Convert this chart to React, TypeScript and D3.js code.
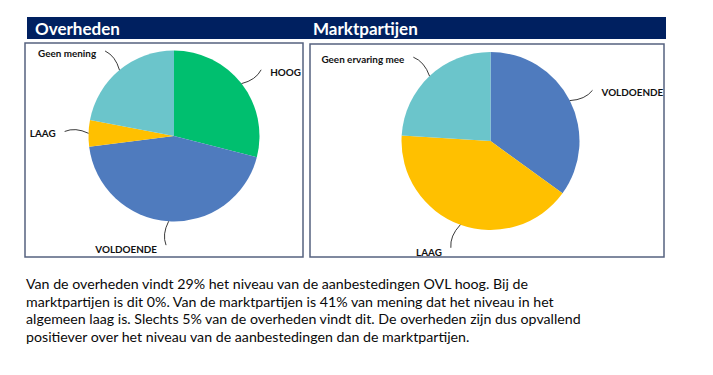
import { useEffect, useRef } from "react";
import * as d3 from "d3";

// data
const overhedenCategories = ["HOOG", "VOLDOENDE", "LAAG", "Geen mening"];
const overhedenValues = [29, 44, 5, 22];
const marktCategories = ["VOLDOENDE", "LAAG", "Geen ervaring mee"];
const marktValues = [35, 41, 24];
const panelTitles = ["Overheden", "Marktpartijen"];
const paragraphLines = [
  "Van de overheden vindt 29% het niveau van de aanbestedingen OVL hoog. Bij de",
  "marktpartijen is dit 0%. Van de marktpartijen is 41% van mening dat het niveau in het",
  "algemeen laag is. Slechts 5% van de overheden vindt dit. De overheden zijn dus opvallend",
  "positiever over het niveau van de aanbestedingen dan de marktpartijen.",
];

const colorOf: Record<string, string> = {
  HOOG: "#00BF6F",
  VOLDOENDE: "#4F7BBE",
  LAAG: "#FFC000",
  "Geen mening": "#6BC5CB",
  "Geen ervaring mee": "#6BC5CB",
};

const FONT = "Lato, 'Open Sans', sans-serif";

interface Slice {
  name: string;
  value: number;
}

export default function App() {
  const ref = useRef<SVGSVGElement>(null);

  useEffect(() => {
    if (!ref.current) return;
    const svg = d3.select(ref.current);
    svg.selectAll("*").remove();

    svg.append("rect").attr("width", 713).attr("height", 375).attr("fill", "#fff");

    // header bar
    svg
      .append("rect")
      .attr("x", 27)
      .attr("y", 17)
      .attr("width", 639)
      .attr("height", 22)
      .attr("fill", "#002060");

    const titleX = [35, 313];
    panelTitles.forEach((t, i) => {
      svg
        .append("text")
        .attr("x", titleX[i])
        .attr("y", 35)
        .attr("fill", "#fff")
        .attr("font-family", FONT)
        .attr("font-weight", "bold")
        .attr("font-size", 17)
        .text(t);
    });

    // boxes
    const boxes = [
      { x: 25, y: 43, w: 278, h: 214 },
      { x: 310, y: 44, w: 354, h: 213 },
    ];
    boxes.forEach((b) => {
      svg
        .append("rect")
        .attr("x", b.x)
        .attr("y", b.y)
        .attr("width", b.w)
        .attr("height", b.h)
        .attr("fill", "none")
        .attr("stroke", "#55627f")
        .attr("stroke-width", 1.5);
    });

    const drawPie = (
      names: string[],
      values: number[],
      cx: number,
      cy: number,
      r: number
    ) => {
      const data: Slice[] = names.map((n, i) => ({ name: n, value: values[i] }));
      const pie = d3.pie<Slice>().sort(null).value((d) => d.value);
      const arc = d3.arc<d3.PieArcDatum<Slice>>().innerRadius(0).outerRadius(r);
      const g = svg.append("g").attr("transform", `translate(${cx},${cy})`);
      const arcs = pie(data);

      g.selectAll("path.slice")
        .data(arcs)
        .enter()
        .append("path")
        .attr("class", "slice")
        .attr("d", arc)
        .attr("fill", (d) => colorOf[d.data.name]);

      const pt = (a: number, rr: number) => [rr * Math.sin(a), -rr * Math.cos(a)];

      arcs.forEach((d) => {
        const a = (d.startAngle + d.endAngle) / 2;
        const [x0, y0] = pt(a, r);
        const [x1, y1] = pt(a + 0.06, r * 1.16);
        const [x2, y2] = pt(a + 0.01, r * 1.28);
        g.append("path")
          .attr("d", `M${x0},${y0}Q${x1},${y1} ${x2},${y2}`)
          .attr("fill", "none")
          .attr("stroke", "#222")
          .attr("stroke-width", 0.9);

        const bottom = Math.cos(a) < -0.85;
        const left = x2 < 0 || bottom;
        g.append("text")
          .attr("x", left ? x2 - 9 : x2 + 9)
          .attr("y", bottom ? y2 + 8 : y2 + 6)
          .attr("text-anchor", left ? "end" : "start")
          .attr("font-family", FONT)
          .attr("font-weight", "bold")
          .attr("font-size", 9.9)
          .attr("fill", "#111")
          .text(d.data.name);
      });
    };

    drawPie(overhedenCategories, overhedenValues, 174, 136, 85.5);
    drawPie(marktCategories, marktValues, 490.5, 141, 89);

    // paragraph
    svg
      .append("g")
      .selectAll("text")
      .data(paragraphLines)
      .enter()
      .append("text")
      .attr("x", 26)
      .attr("y", (_, i) => 289 + i * 17.7)
      .attr("font-family", FONT)
      .attr("font-size", 14.2)
      .attr("fill", "#0a0a0a")
      .text((d) => d);
  }, []);

  return (
    <svg
      ref={ref}
      width={713}
      height={375}
      style={{ position: "absolute", left: 0, top: 0 }}
    />
  );
}
